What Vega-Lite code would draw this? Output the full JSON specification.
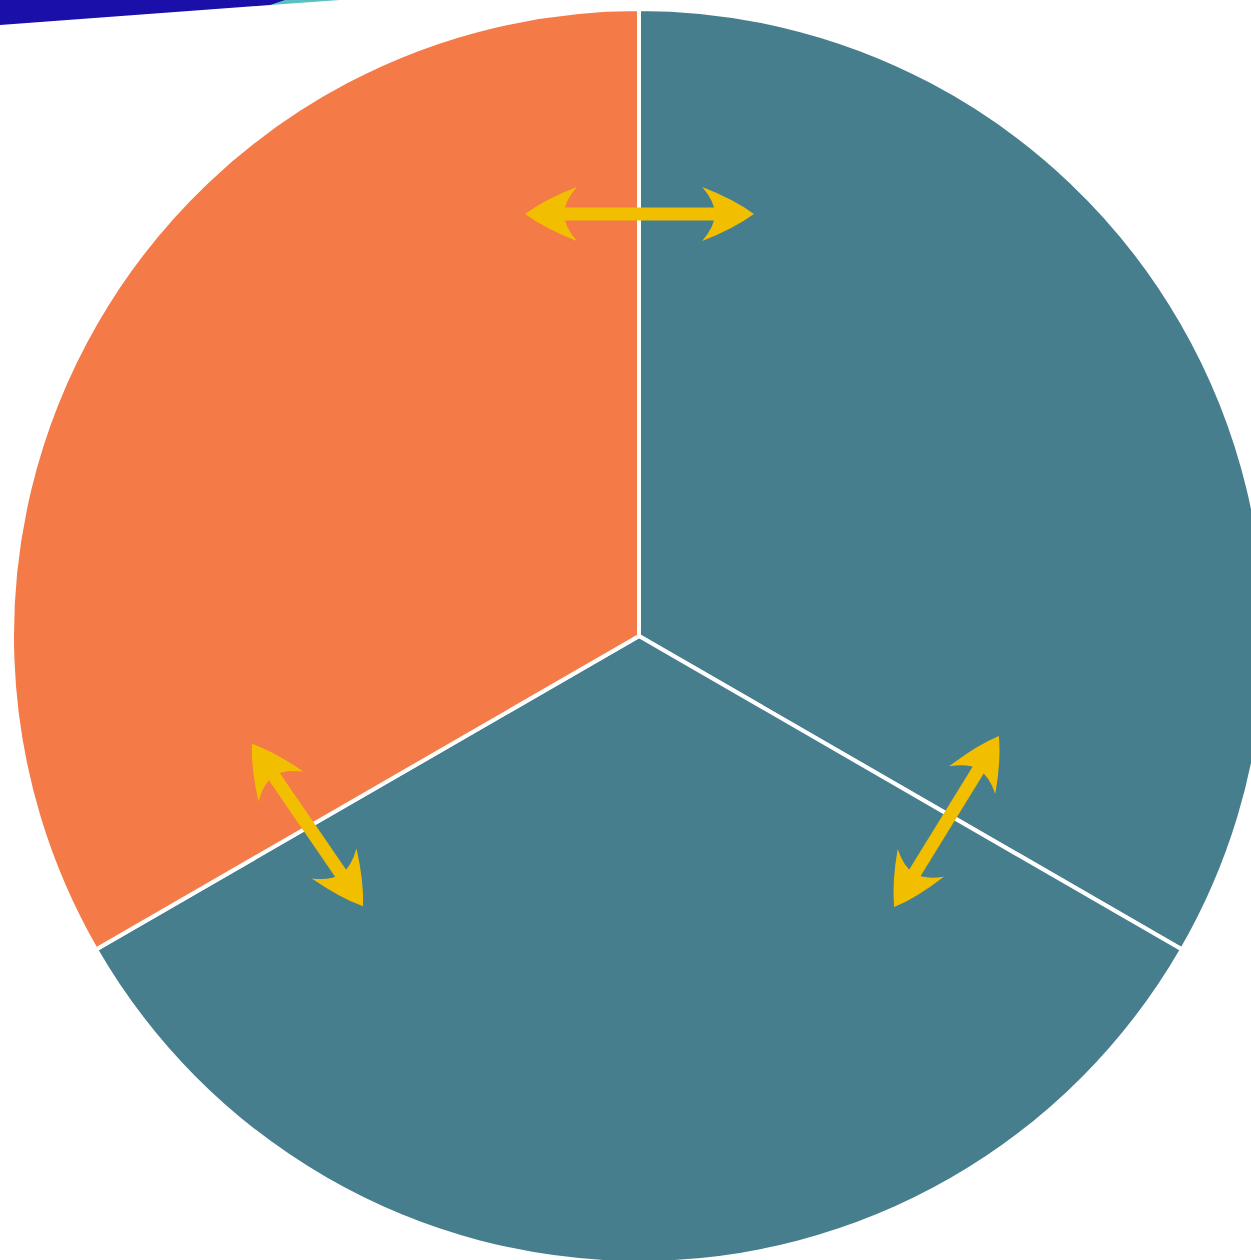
{
  "$schema": "https://vega.github.io/schema/vega-lite/v6.json",
  "autosize": {"type": "none"},
  "width": 1224,
  "height": 1248,
  "padding": {"left": 27, "top": 12, "right": 0, "bottom": 0},
  "background": "white",
  "config": {"view": {"stroke": null}},
  "layer": [
    {
      "data": {"values": [
        {"slice": "A", "value": 1},
        {"slice": "B", "value": 1},
        {"slice": "C", "value": 1}
      ]},
      "mark": {"type": "arc", "radius": 627, "stroke": "white", "strokeWidth": 4},
      "encoding": {
        "theta": {"field": "value", "type": "quantitative", "stack": true},
        "order": {"field": "slice", "type": "ordinal"},
        "color": {"field": "slice", "type": "nominal", "legend": null,
          "scale": {"domain": ["A", "B", "C"], "range": ["#467E8E", "#467E8E", "#F47A47"]}}
      }
    },
    {
      "data": {"values": [
        {"x": -369, "y": 631, "y2": 636},
        {"x": -299, "y": 636, "y2": 636}
      ]},
      "mark": {"type": "area", "color": "#5BC0C0", "clip": false},
      "encoding": {
        "x": {"field": "x", "type": "quantitative", "scale": {"domain": [-612, 612], "nice": false, "zero": false}, "axis": null},
        "y": {"field": "y", "type": "quantitative", "scale": {"domain": [-624, 624], "nice": false, "zero": false}, "axis": null},
        "y2": {"field": "y2"}
      }
    },
    {
      "data": {"values": [
        {"x": -639, "y": 611, "y2": 636},
        {"x": -369, "y": 631, "y2": 636},
        {"x": -354, "y": 636, "y2": 636}
      ]},
      "mark": {"type": "area", "color": "#1A0FA8", "clip": false},
      "encoding": {
        "x": {"field": "x", "type": "quantitative", "scale": {"domain": [-612, 612], "nice": false, "zero": false}, "axis": null},
        "y": {"field": "y", "type": "quantitative", "scale": {"domain": [-624, 624], "nice": false, "zero": false}, "axis": null},
        "y2": {"field": "y2"}
      }
    },
    {
      "data": {"values": [
        {"arrow": "top", "x": -87, "y": 422, "x2": 88, "y2": 422},
        {"arrow": "left", "x": -372, "y": -130, "x2": -291, "y2": -248},
        {"arrow": "right", "x": 346, "y": -123, "x2": 269, "y2": -248}
      ]},
      "mark": {"type": "rule", "color": "#F2BE00", "strokeWidth": 13, "strokeCap": "butt"},
      "encoding": {
        "x": {"field": "x", "type": "quantitative", "scale": {"domain": [-612, 612], "nice": false, "zero": false}, "axis": null},
        "y": {"field": "y", "type": "quantitative", "scale": {"domain": [-624, 624], "nice": false, "zero": false}, "axis": null},
        "x2": {"field": "x2"},
        "y2": {"field": "y2"}
      }
    },
    {
      "data": {"values": [
        {"arrow": "top", "x": -87, "y": 422, "angle": 270},
        {"arrow": "top", "x": 88, "y": 422, "angle": 90},
        {"arrow": "left", "x": -372, "y": -130, "angle": -34},
        {"arrow": "left", "x": -291, "y": -248, "angle": 146},
        {"arrow": "right", "x": 346, "y": -123, "angle": 31},
        {"arrow": "right", "x": 269, "y": -248, "angle": 211}
      ]},
      "mark": {"type": "point", "filled": true, "opacity": 1, "color": "#F2BE00", "strokeWidth": 0, "size": 2900,
        "shape": "M0,-1 Q0.55,-0.25 1,0.92 Q0.45,0.45 0,0.45 Q-0.45,0.45 -1,0.92 Q-0.55,-0.25 0,-1 Z"},
      "encoding": {
        "x": {"field": "x", "type": "quantitative", "scale": {"domain": [-612, 612], "nice": false, "zero": false}, "axis": null},
        "y": {"field": "y", "type": "quantitative", "scale": {"domain": [-624, 624], "nice": false, "zero": false}, "axis": null},
        "angle": {"field": "angle", "type": "quantitative", "scale": null}
      }
    }
  ]
}
